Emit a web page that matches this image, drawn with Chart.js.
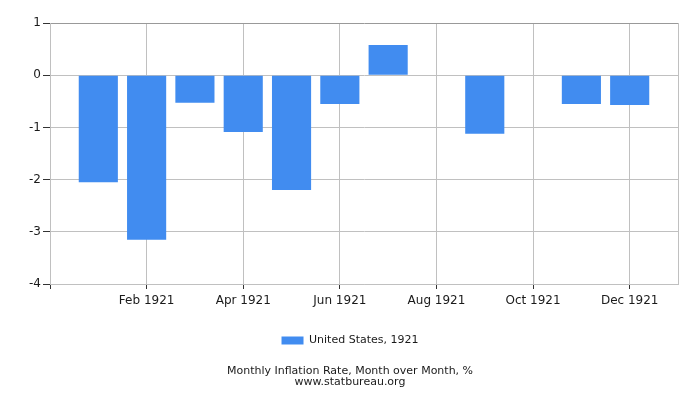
<!DOCTYPE html>
<html>
<head>
<meta charset="utf-8">
<script src="https://cdn.jsdelivr.net/npm/chart.js@4/dist/chart.umd.min.js"></script>
<style>
  html, body { margin: 0; padding: 0; background: #fff; }
  #wrap { width: 700px; height: 400px; }
</style>
</head>
<body>
<div id="wrap"><canvas id="chart" width="700" height="400"></canvas></div>
<script>
// ===== DATA =====
const months = ['Jan 1921', 'Feb 1921', 'Mar 1921', 'Apr 1921', 'May 1921', 'Jun 1921',
  'Jul 1921', 'Aug 1921', 'Sep 1921', 'Oct 1921', 'Nov 1921', 'Dec 1921'];
const inflation = [-2.05, -3.15, -0.53, -1.09, -2.2, -0.55, 0.58, 0, -1.12, 0, -0.55, -0.57];
const yTicks = [-4, -3, -2, -1, 0, 1];
const seriesLabel = 'United States, 1921';
const titleLines = ['Monthly Inflation Rate, Month over Month, %', 'www.statbureau.org'];

const FONT = "'DejaVu Sans', sans-serif";
const GRID = '#c0c0c0';
const TEXT = '#1a1a1a';

// bars sit at 1..12 on a linear axis running 0..13
const points = months.map((m, i) => ({ x: i + 1, y: inflation[i] }));
const lastX = months.length + 1;
const xTickValues = [0].concat(months.map((_, i) => i + 1).filter(v => v % 2 === 0), [lastX]);

new Chart(document.getElementById('chart').getContext('2d'), {
  type: 'bar',
  data: {
    datasets: [{
      label: seriesLabel,
      data: points,
      backgroundColor: '#418cf0',
      borderWidth: 0,
      barPercentage: 0.81,
      categoryPercentage: 1,
    }],
  },
  options: {
    responsive: false,
    animation: false,
    layout: { padding: { top: 23, right: 0, left: 0, bottom: 0 } },
    plugins: {
      legend: {
        position: 'bottom',
        labels: {
          boxWidth: 22,
          boxHeight: 8,
          padding: 10,
          color: TEXT,
          font: { family: FONT, size: 11 },
        },
      },
      title: {
        display: true,
        position: 'bottom',
        text: titleLines,
        color: TEXT,
        font: { family: FONT, size: 11, weight: 'normal', lineHeight: 1.0 },
        padding: { top: 10, bottom: 12 },
      },
      tooltip: { enabled: false },
    },
    scales: {
      x: {
        type: 'linear',
        min: 0,
        max: lastX,
        offset: false,
        afterBuildTicks(scale) {
          scale.ticks = xTickValues.map(v => ({ value: v }));
        },
        afterFit(scale) { scale.height = 41; },
        ticks: {
          autoSkip: false,
          maxRotation: 0,
          color: TEXT,
          font: { family: FONT, size: 12 },
          padding: 5,
          callback: v => (v >= 1 && v <= months.length ? months[v - 1] : ''),
        },
        grid: {
          offset: false,
          color: GRID,
          tickLength: 5,
          tickColor: ctx => (ctx.tick && ctx.tick.value === lastX ? 'rgba(0,0,0,0)' : '#333'),
        },
        border: { color: GRID },
      },
      y: {
        min: yTicks[0],
        max: yTicks[yTicks.length - 1],
        afterBuildTicks(scale) {
          scale.ticks = yTicks.map(v => ({ value: v }));
        },
        afterFit(scale) { scale.width = 50; },
        ticks: {
          color: TEXT,
          font: { family: FONT, size: 12 },
          padding: 2,
          callback: v => String(v),
        },
        grid: {
          color: ctx => (ctx.tick && ctx.tick.value === 1 ? '#999' : GRID),
          tickLength: 7,
          tickColor: '#333',
        },
        border: { color: GRID },
      },
      // empty right gutter so legend and title centre on the full canvas
      yRight: {
        position: 'right',
        min: yTicks[0],
        max: yTicks[yTicks.length - 1],
        afterFit(scale) { scale.width = 22; },
        ticks: { display: false },
        grid: { display: false },
        border: { display: false },
      },
    },
  },
});
</script>
</body>
</html>
